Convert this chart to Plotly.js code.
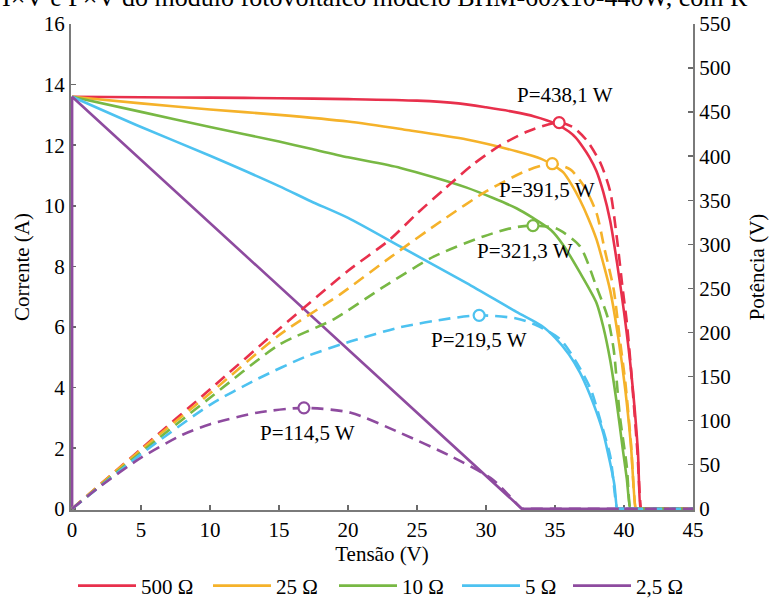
<!DOCTYPE html>
<html>
<head>
<meta charset="utf-8">
<script src="https://cdn.plot.ly/plotly-3.0.1.min.js"></script>
<style>
  html, body { margin: 0; padding: 0; background: #fff; overflow: hidden; }
  #chart { width: 769px; height: 599px; }
</style>
</head>
<body>
<div id="chart"></div>
<script>
// ---------- data ----------
const seriesNames = ['500 Ω', '25 Ω', '10 Ω', '5 Ω', '2,5 Ω'];
const seriesColors = ['#e8304c', '#f5b22a', '#78b844', '#4dc2f0', '#8e4b9f'];

// I x V curves (Tensão V, Corrente A)
const voltageI500 = [0, 5, 10, 15, 20, 25, 28, 30, 32, 33.5, 35, 36, 36.5, 37, 37.5, 38, 38.5, 39, 39.5, 40, 40.5, 41, 41.2, 41.25, 45];
const current500  = [13.6, 13.58, 13.57, 13.55, 13.52, 13.47, 13.38, 13.25, 13.1, 12.95, 12.72, 12.45, 12.25, 11.95, 11.6, 11.15, 10.45, 9.5, 8.1, 6.5, 4.6, 1.95, 0, 0, 0];
const voltageI25  = [0, 5, 10, 15, 20, 24, 28.6, 32.2, 34, 35, 35.6, 36.2, 36.8, 37.4, 38, 38.5, 39, 39.6, 40.1, 40.5, 40.85, 40.9, 45];
const current25   = [13.6, 13.38, 13.18, 13.0, 12.78, 12.52, 12.19, 11.8, 11.55, 11.3, 11.1, 10.7, 10.2, 9.6, 8.9, 8.1, 7.2, 5.6, 3.9, 2.1, 0, 0, 0];
const voltageI10  = [0, 5, 10, 15, 17.3, 20, 23.8, 28.6, 32.2, 33.4, 34.7, 35.6, 36.8, 38, 38.5, 39, 39.5, 39.9, 40.2, 40.45, 40.5, 45];
const current10   = [13.6, 13.1, 12.6, 12.12, 11.88, 11.6, 11.25, 10.6, 9.92, 9.6, 9.2, 8.7, 7.8, 6.8, 6.0, 4.9, 3.4, 2.0, 1.0, 0, 0, 0];
const voltageI5   = [0, 5, 10, 15, 17.3, 20, 23.8, 28.6, 32.2, 34, 35, 36, 36.8, 37.5, 38, 38.5, 39, 39.3, 39.5, 39.55, 45];
const current5    = [13.6, 12.6, 11.65, 10.65, 10.15, 9.6, 8.65, 7.45, 6.5, 6.05, 5.65, 5.1, 4.5, 3.8, 3.2, 2.5, 1.5, 0.8, 0, 0, 0];
const voltageI2_5 = [0, 0, 32.6, 45];
const current2_5  = [0, 13.6, 0, 0];

// P x V curves (Tensão V, Potência W)
const voltageP500 = [0, 5, 10, 15, 20, 23, 25, 27, 29, 31, 33, 34.5, 35.3, 36.3, 37.3, 38.3, 39, 39.5, 39.9, 40.2, 40.5, 40.96, 41.25, 41.3, 45];
const power500    = [0, 68, 135.5, 204, 270, 305, 335, 363, 390, 412, 428, 436, 438.1, 433, 418, 392, 360, 305, 250, 212, 160, 67, 0, 0, 0];
const voltageP25  = [0, 5, 10, 15, 19.4, 23.3, 26.9, 30, 33, 34.8, 36.1, 37.1, 38, 38.6, 39.25, 39.7, 40.1, 40.5, 40.85, 40.9, 45];
const power25     = [0, 67, 131, 197, 243, 288, 328, 360, 384, 391.5, 385, 366, 336, 294, 249, 192, 143, 75, 0, 0, 0];
const voltageP10  = [0, 5, 10, 15, 18.96, 22.6, 26.2, 29.8, 32, 33.4, 35.1, 36.8, 38, 38.8, 39.25, 39.7, 40.2, 40.45, 40.5, 45];
const power10     = [0, 64, 126, 186, 215, 252, 286, 309, 319, 321.3, 318, 298, 252, 218, 181, 105, 48, 0, 0, 0];
const voltageP5   = [0, 5, 10, 13.4, 17, 20.2, 23.8, 27.4, 29.5, 32.2, 33.7, 35.4, 36.6, 37.6, 38.4, 39, 39.5, 39.55, 45];
const power5      = [0, 62, 118, 147, 173, 190, 206, 216, 219.5, 216, 208, 192, 165, 135, 94, 60, 0, 0, 0];
const voltageP2_5 = [0, 2, 5, 8, 10, 13.4, 16.8, 20.2, 23.8, 27.4, 30.5, 32.6, 32.65, 45];
const power2_5    = [0, 25, 58, 84, 96, 109, 114.5, 109, 86, 60, 33, 0, 0, 0];

// maximum power points
const mppVoltage = [35.3, 34.8, 33.4, 29.5, 16.8];
const mppPower   = [438.1, 391.5, 321.3, 219.5, 114.5];
const mppLabels  = ['P=438,1 W', 'P=391,5 W', 'P=321,3 W', 'P=219,5 W', 'P=114,5 W'];
const mppLabelVoltage = [35.75, 34.4, 32.85, 29.46, 17.03];
const mppLabelPower   = [469.7, 362, 292, 192, 86];

const xTickValues  = [0, 5, 10, 15, 20, 25, 30, 35, 40, 45];
const yTickValues  = [0, 2, 4, 6, 8, 10, 12, 14, 16];
const y2TickValues = [0, 50, 100, 150, 200, 250, 300, 350, 400, 450, 500, 550];

const captionText = 'I×V e P×V do módulo fotovoltaico modelo BHM-60X10-440W, com R';

// ---------- build traces ----------
const ivV = [voltageI500, voltageI25, voltageI10, voltageI5, voltageI2_5];
const ivI = [current500, current25, current10, current5, current2_5];
const pvV = [voltageP500, voltageP25, voltageP10, voltageP5, voltageP2_5];
const pvP = [power500, power25, power10, power5, power2_5];
const legendWidths = [62, 53, 50, 38, 50];

const FONT = 'Liberation Serif';
const traces = [];
for (let i = 0; i < seriesNames.length; i++) {
  const isLinear = (i === seriesNames.length - 1);
  traces.push({
    type: 'scatter', mode: 'lines', x: ivV[i], y: ivI[i], name: seriesNames[i],
    xaxis: 'x', yaxis: 'y', legendwidth: legendWidths[i],
    line: { color: seriesColors[i], width: 2.6, shape: isLinear ? 'linear' : 'spline', smoothing: 0.7 },
    hoverinfo: 'skip'
  });
  traces.push({
    type: 'scatter', mode: 'lines', x: pvV[i], y: pvP[i], name: seriesNames[i] + ' P',
    xaxis: 'x', yaxis: 'y2', showlegend: false,
    line: { color: seriesColors[i], width: 2.6, dash: '12px,7px', shape: 'spline', smoothing: 0.7 },
    hoverinfo: 'skip'
  });
  traces.push({
    type: 'scatter', mode: 'markers', x: [mppVoltage[i]], y: [mppPower[i]],
    xaxis: 'x', yaxis: 'y2', showlegend: false, hoverinfo: 'skip',
    marker: { symbol: 'circle', size: 11, color: '#ffffff', line: { color: seriesColors[i], width: 2.2 } }
  });
}

const annotations = mppLabels.map((t, i) => ({
  text: t, x: mppLabelVoltage[i], y: mppLabelPower[i], xref: 'x', yref: 'y2',
  showarrow: false, xanchor: 'center', yanchor: 'middle',
  font: { family: FONT, size: 21, color: '#000' }
}));
annotations.push({
  text: captionText, xref: 'paper', yref: 'paper', x: -0.114, y: 1.055,
  xanchor: 'left', yanchor: 'middle', showarrow: false,
  font: { family: FONT, size: 26, color: '#000' }
});

function axisBase() {
  return {
    showgrid: false, zeroline: false, showline: true, linecolor: '#7a7a7a', linewidth: 2,
    ticks: 'inside', ticklen: 5, tickwidth: 1.5, tickcolor: '#6a6a6a',
    tickfont: { family: FONT, size: 21, color: '#000' }, layer: 'below traces'
  };
}

const layout = {
  width: 769, height: 599,
  margin: { l: 71, r: 76, t: 24, b: 89, pad: 0, autoexpand: false },
  paper_bgcolor: '#fff', plot_bgcolor: '#fff',
  font: { family: FONT, size: 21, color: '#000' },
  showlegend: true,
  legend: {
    orientation: 'h', x: 0.5, xanchor: 'center', y: -0.1564, yanchor: 'middle',
    font: { family: FONT, size: 21, color: '#000' }, itemwidth: 58,
    bgcolor: 'rgba(0,0,0,0)'
  },
  xaxis: Object.assign(axisBase(), {
    range: [-0.08, 45], tickvals: xTickValues, ticktext: xTickValues.map(String),
    title: { text: 'Tensão (V)', font: { family: FONT, size: 21, color: '#000' }, standoff: 4 }
  }),
  yaxis: Object.assign(axisBase(), {
    range: [-0.04, 16], tickvals: yTickValues, ticktext: yTickValues.map(String),
    title: { text: 'Corrente (A)', font: { family: FONT, size: 21, color: '#000' }, standoff: 8 }
  }),
  yaxis2: Object.assign(axisBase(), {
    overlaying: 'y', side: 'right', anchor: 'x',
    range: [-1.375, 550], tickvals: y2TickValues, ticktext: y2TickValues.map(String),
    title: { text: 'Potência (V)', font: { family: FONT, size: 21, color: '#000' }, standoff: 20 }
  }),
  annotations: annotations
};

Plotly.newPlot('chart', traces, layout, { displayModeBar: false, staticPlot: true });
</script>
</body>
</html>
